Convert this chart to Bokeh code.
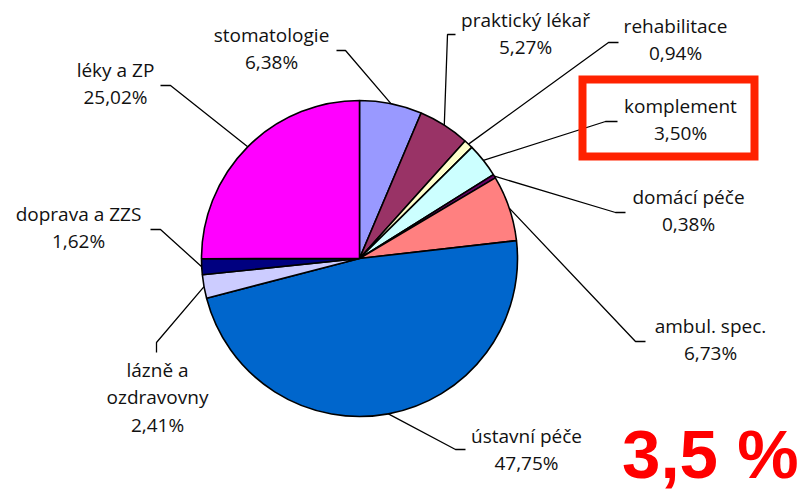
import math
from bokeh.plotting import figure
from bokeh.models import Range1d, ColumnDataSource
from bokeh.core.properties import value
from bokeh.embed import file_html
from bokeh.resources import INLINE

# ---- data ----
categories = ["stomatologie", "praktický lékař", "rehabilitace", "komplement",
              "domácí péče", "ambul. spec.", "ústavní péče", "lázně a ozdravovny",
              "doprava a ZZS", "léky a ZP"]
shares = [6.38, 5.27, 0.94, 3.50, 0.38, 6.73, 47.75, 2.41, 1.62, 25.02]
label_lines = [["stomatologie"], ["praktický lékař"], ["rehabilitace"], ["komplement"],
               ["domácí péče"], ["ambul. spec."], ["ústavní péče"], ["lázně a", "ozdravovny"],
               ["doprava a ZZS"], ["léky a ZP"]]
highlight_text = "3,5 %"

# ---- styles / layout ----
colors = ["#9999FF", "#993366", "#FFFFCC", "#CCFFFF", "#660066",
          "#FF8080", "#0066CC", "#CCCCFF", "#000080", "#FF00FF"]
W, H = 800, 493  # data y = H - pixel_y
cx, cy, r = 359, H - 258, 158
# label centre x, first line centre y (pixels)
label_pos = [(271, 34), (525, 19), (675, 25), (680, 105), (688, 196),
             (710, 325), (526, 435), (157, 369), (78, 213), (115, 69)]
line_step = 27.5
leader_elbow = [(345, 50), (447, 34), (608, 42), (605, 121), (615, 212),
                (635, 341), (455, 449), (156, 342), (160, 229), (170, 85)]
leader_end = [(336, 50), (455, 34), (618, 42), (617, 121), (625, 212),
              (645, 341), (465, 449), (156, 352), (150, 229), (160, 85)]
FONT = "Open Sans"
FS = "19px"

p = figure(width=W, height=H, x_range=Range1d(0, W), y_range=Range1d(0, H),
           output_backend="svg", toolbar_location=None, min_border=0,
           x_axis_type=None, y_axis_type=None)
p.grid.visible = False
p.outline_line_color = None
p.background_fill_color = "white"
p.border_fill_color = "white"

total = sum(shares)
starts, ends, mids = [], [], []
cum = 0.0
for v in shares:
    a0 = math.pi / 2 - 2 * math.pi * cum / total
    cum += v
    a1 = math.pi / 2 - 2 * math.pi * cum / total
    starts.append(a0)
    ends.append(a1)
    mids.append((a0 + a1) / 2)

src = ColumnDataSource(dict(x=[cx] * len(shares), y=[cy] * len(shares),
                            start=starts, end=ends, color=colors, cat=categories))
p.wedge(x="x", y="y", radius=r, start_angle="start", end_angle="end",
        direction="clock", fill_color="color", line_color="black", line_width=1.6,
        source=src)

xs, ys = [], []
for m, el, en in zip(mids, leader_elbow, leader_end):
    ex, ey = cx + r * math.cos(m), cy + r * math.sin(m)
    xs.append([ex, el[0], en[0]])
    ys.append([ey, H - el[1], H - en[1]])
p.multi_line(xs=xs, ys=ys, line_color="black", line_width=1.3)

tx, ty, tt = [], [], []
for lines, v, (lx, ly) in zip(label_lines, shares, label_pos):
    allines = lines + [f"{v:.2f}".replace(".", ",") + "%"]
    for i, s in enumerate(allines):
        tx.append(lx)
        ty.append(H - (ly + i * line_step))
        tt.append(s)
p.text(x=tx, y=ty, text=tt, text_align="center", text_baseline="middle",
       text_font=value(FONT), text_font_size=FS, text_color="#111111")

p.quad(left=[582], right=[754], top=[H - 79], bottom=[H - 156], fill_color=None,
       line_color="#FF2200", line_width=8, line_join="miter")

p.text(x=[798], y=[H - 454], text=[highlight_text], text_align="right",
       text_baseline="middle", text_font=value("Liberation Sans"),
       text_font_style="bold", text_font_size="69px", text_color="#FF0000")

open("out.html", "w").write(file_html(p, INLINE))
